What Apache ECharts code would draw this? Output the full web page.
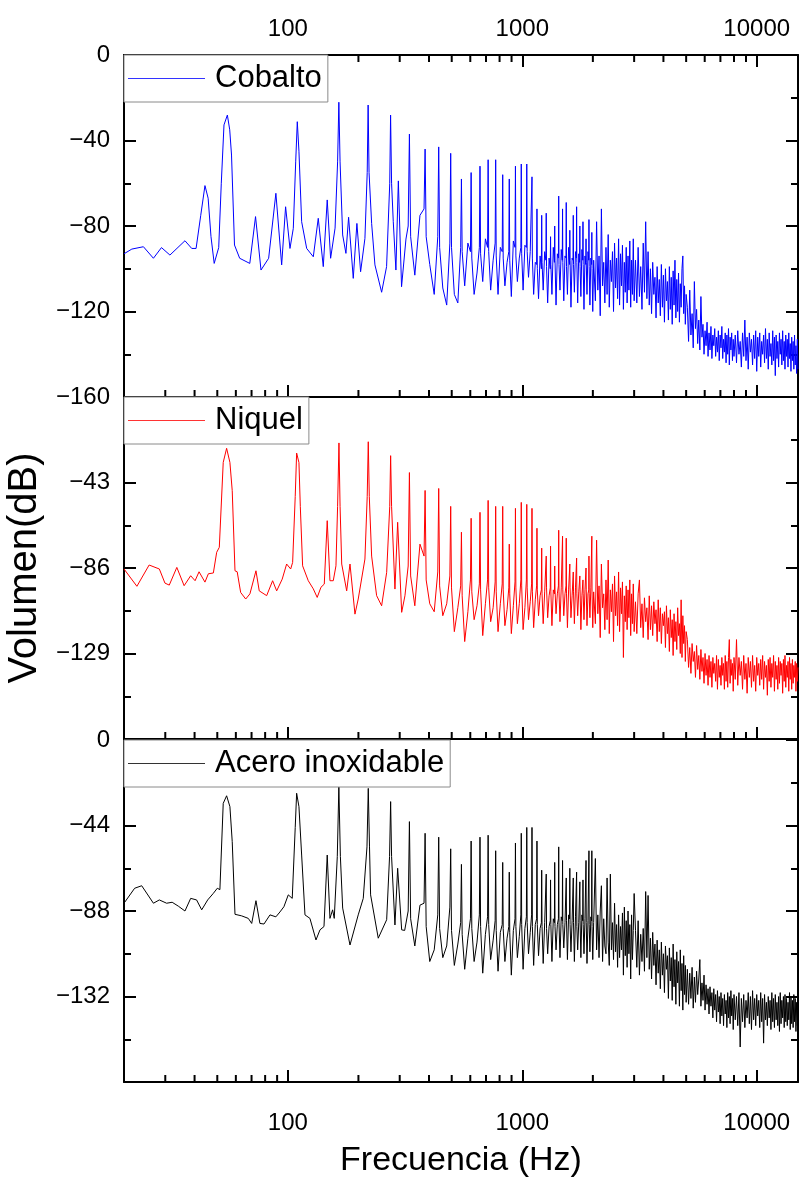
<!DOCTYPE html>
<html>
<head>
<meta charset="utf-8">
<script src="https://cdn.jsdelivr.net/npm/echarts@6/dist/echarts.min.js"></script>
<style>
  html, body { margin: 0; padding: 0; background: #fff; }
  #chart { width: 800px; height: 1178px; }
</style>
</head>
<body>
<div id="chart"></div>
<script>
// espectros de volumen (dB) vs frecuencia (Hz)

// zona baja (20-320 Hz), pares [Hz, dB] por material
const cobaltoLow = [
  [20, -93], [21.6, -90.8], [24.2, -89.7], [26.7, -95.1], [28.9, -90.1], [31.4, -93.6],
  [36.4, -86.9], [38.9, -90.5], [40.6, -90.5], [42.5, -75], [44.3, -61.1], [45.7, -67],
  [47, -85], [48.5, -97.5], [50.7, -90.1], [52, -60], [53.4, -32.7], [55.2, -28.1],
  [56.5, -35], [57.5, -46.8], [59.2, -88.9], [62.3, -95.1], [68.8, -97.5], [72.8, -75.6],
  [76.8, -100.6], [82.8, -95.1], [88.9, -64.7], [94.1, -98.2], [97.8, -71], [102.1, -90.5],
  [105.5, -81.1], [108, -50], [109.7, -31.2], [111.5, -45], [114.5, -78], [120.3, -90.5],
  [128.4, -94.4], [134.8, -76.4], [141.6, -99], [147.2, -67.8], [152.2, -95.1], [159, -81],
  [163, -50], [165, -22.1], [167, -50], [171.3, -84.2], [176.9, -92.8], [181.6, -75.9],
  [190.1, -104.5], [197, -78.8], [204.3, -101.4], [213.2, -85.8], [218, -55], [220, -23.4],
  [222, -55], [227.7, -78.8], [235.2, -98.2], [251.2, -111], [263.7, -99], [272, -60],
  [274.3, -28.1], [277, -60], [281.6, -78], [289, -100.6], [296, -58.9], [305.5, -108.4],
  [319, -86.1]
];
const niquelLow = [
  [20, -86.5], [22.7, -95.2], [25.6, -84.5], [28.3, -86.5], [29.9, -93.6], [31.2, -94.6],
  [33.6, -85.7], [36.1, -94.9], [38.5, -89.9], [40.2, -92.4], [41.8, -87.9], [44.3, -93.1],
  [45.8, -88.9], [48.1, -88.5], [49.7, -78.1], [51, -75.6], [53, -32.9], [54.8, -25.8],
  [56.6, -32.9], [57.9, -47.1], [59.5, -87.4], [60.8, -87.9], [62.9, -98.3], [66.1, -101.6],
  [68.9, -99], [73.1, -87.4], [75.5, -97.5], [81.2, -99.9], [86.1, -92.4], [89.6, -97.5],
  [94.6, -91.6], [98.8, -84], [102.8, -86.5], [104.8, -83.2], [107.5, -50], [109, -28.2],
  [111.5, -33], [113, -55], [115.6, -84.9], [122.2, -92.4], [128.4, -96.5], [133.4, -100.8],
  [138.4, -95.7], [143, -94.1], [147.2, -62.2], [151.2, -92.4], [156.2, -92.4], [160.4, -84.9],
  [163, -55], [165.2, -23.1], [167, -55], [169.7, -84], [178.2, -97.5], [184.1, -84],
  [193.3, -109.2], [199.6, -101.6], [213.2, -81.5], [218, -50], [220.3, -22.5], [222.5, -50],
  [227.7, -80], [239.1, -99.9], [251.2, -105], [263.9, -88.2], [272, -55], [274.4, -29.5],
  [277, -55], [286.3, -96.6], [294, -63], [305.8, -108.3], [315.8, -100]
];
const aceroLow = [
  [20, -84], [22.2, -76.3], [23.8, -75], [26.7, -84], [28.3, -82.3], [30.4, -84],
  [32.1, -83.5], [34.1, -85.5], [36.4, -88], [38.5, -81.5], [40.8, -82.3], [42.9, -87.4],
  [45.5, -82.3], [48.1, -78.9], [50, -76.3], [51.3, -77], [53, -32.6], [54.8, -28.7],
  [56.6, -34.3], [57.9, -52.3], [59.5, -89.7], [63.5, -90.5], [67.8, -91.8], [70.1, -94.4],
  [73.1, -82.7], [76, -94.4], [79.1, -94.7], [83.9, -90], [88.9, -91], [92.5, -88.5],
  [96.2, -85.8], [100.4, -79.7], [104.4, -81.5], [107.5, -45], [109, -27.4], [111.5, -34.3],
  [114.5, -59.2], [118.3, -90], [124.2, -91.8], [131.8, -102.9], [137.1, -97.7], [142.6, -96],
  [147.2, -59.2], [151.2, -91.8], [155.2, -87.4], [157.7, -91.8], [162.5, -60], [165, -24],
  [167.5, -60], [171.3, -86.5], [184.1, -105.5], [199.6, -90], [209.7, -81.5], [217.5, -55],
  [220.3, -24.9], [223, -55], [225.4, -79.7], [243, -102], [263.9, -92.5], [271.5, -60],
  [274.4, -31.7], [277, -60], [286.3, -95.2], [294, -66], [305.8, -97.7], [315, -98]
];

// zona de armonicos (326-2016 Hz): frecuencias comunes, 5 por armonico
const midFreqs = [
  326, 330, 334, 348, 366,
  381, 385, 389, 403, 421,
  436, 440, 444, 458, 476,
  491, 495, 499, 513, 531,
  546, 550, 554, 568, 586,
  601, 605, 609, 623, 641,
  656, 660, 664, 678, 696,
  711, 715, 719, 733, 751,
  766, 770, 774, 788, 806,
  821, 825, 829, 843, 861,
  876, 880, 884, 898, 916,
  931, 935, 939, 953, 971,
  986, 990, 994, 1008, 1026,
  1041, 1045, 1049, 1063, 1081,
  1096, 1100, 1104, 1118, 1136,
  1151, 1155, 1159, 1173, 1191,
  1206, 1210, 1214, 1228, 1246,
  1261, 1265, 1269, 1283, 1301,
  1316, 1320, 1324, 1338, 1356,
  1371, 1375, 1379, 1393, 1411,
  1426, 1430, 1434, 1448, 1466,
  1481, 1485, 1489, 1503, 1521,
  1536, 1540, 1544, 1558, 1576,
  1591, 1595, 1599, 1613, 1631,
  1646, 1650, 1654, 1668, 1686,
  1701, 1705, 1709, 1723, 1741,
  1756, 1760, 1764, 1778, 1796,
  1811, 1815, 1819, 1833, 1851,
  1866, 1870, 1874, 1888, 1906,
  1921, 1925, 1929, 1943, 1961,
  1976, 1980, 1984, 1998, 2016
];
const cobaltoMid = [
  -80, -37, -85, -103, -75,
  -72, -44, -85, -98, -112,
  -85, -43, -90, -109, -117,
  -88, -46, -90, -112, -116,
  -90, -58, -92, -108, -88,
  -92, -55, -95, -112, -102,
  -90, -52, -93, -106, -86,
  -90, -49, -92, -110, -96,
  -88, -49, -94, -112, -90,
  -92, -56, -95, -108, -97,
  -92, -58, -96, -113, -87,
  -90, -52, -94, -106, -95,
  -90, -51, -93, -110, -89,
  -90, -51, -92, -104, -92,
  -92, -57, -95, -112, -97,
  -98, -72, -100, -114, -94,
  -100, -75, -97, -110, -92,
  -96, -74, -99, -116, -95,
  -100, -85, -98, -112, -90,
  -97, -80, -96, -117, -93,
  -95, -66, -98, -110, -91,
  -96, -72, -97, -115, -94,
  -95, -69, -99, -112, -90,
  -98, -82, -96, -118, -95,
  -96, -75, -98, -111, -92,
  -95, -71, -97, -116, -93,
  -97, -80, -99, -113, -91,
  -96, -78, -98, -119, -94,
  -98, -86, -97, -112, -92,
  -96, -77, -99, -117, -95,
  -98, -83, -100, -120, -96
];
const niquelMid = [
  -85, -38, -90, -105, -74,
  -80, -47, -92, -104, -108,
  -88, -46, -95, -110, -104,
  -90, -55, -96, -118, -106,
  -95, -68, -100, -123, -108,
  -92, -61, -98, -112, -105,
  -94, -58, -97, -120, -104,
  -92, -52, -96, -113, -106,
  -93, -55, -98, -118, -104,
  -94, -55, -97, -115, -107,
  -96, -74, -99, -119, -105,
  -93, -56, -96, -114, -104,
  -92, -53, -95, -117, -106,
  -92, -54, -96, -112, -103,
  -94, -56, -98, -116, -102,
  -95, -66, -97, -110, -100,
  -97, -76, -99, -114, -98,
  -98, -80, -96, -111, -100,
  -96, -75, -98, -115, -97,
  -99, -85, -97, -109, -99,
  -95, -67, -98, -113, -96,
  -96, -70, -97, -110, -99,
  -95, -71, -99, -116, -97,
  -98, -84, -96, -111, -100,
  -99, -88, -98, -114, -96,
  -97, -81, -99, -110, -98,
  -99, -90, -97, -117, -100,
  -100, -92, -99, -112, -97,
  -98, -86, -97, -115, -99,
  -97, -80, -99, -111, -96,
  -95, -70, -98, -116, -98
];
const aceroMid = [
  -88, -42, -92, -106, -85,
  -84, -48, -96, -114, -108,
  -90, -50, -97, -112, -106,
  -86, -56, -98, -116, -105,
  -94, -64, -100, -118, -102,
  -92, -52, -97, -114, -104,
  -90, -50, -96, -120, -100,
  -91, -49, -95, -113, -103,
  -93, -57, -98, -119, -99,
  -95, -63, -97, -114, -102,
  -96, -68, -99, -121, -98,
  -92, -53, -96, -112, -101,
  -90, -48, -95, -118, -97,
  -91, -45, -94, -110, -99,
  -90, -45, -96, -116, -95,
  -92, -52, -95, -111, -97,
  -94, -67, -96, -115, -94,
  -95, -69, -97, -110, -96,
  -93, -72, -95, -114, -92,
  -94, -63, -96, -108, -95,
  -92, -55, -94, -112, -91,
  -93, -62, -95, -107, -94,
  -94, -71, -93, -113, -90,
  -92, -66, -95, -109, -93,
  -93, -71, -94, -114, -91,
  -92, -68, -96, -108, -94,
  -94, -73, -93, -112, -90,
  -93, -72, -95, -110, -92,
  -91, -62, -94, -115, -93,
  -92, -57, -95, -109, -91,
  -93, -57, -96, -113, -94
];

// zona de ruido (2025-15000 Hz): frecuencias comunes
const bandFreqs = [
  2025, 2050, 2075, 2100, 2125, 2150, 2175, 2200, 2225, 2250,
  2275, 2300, 2325, 2350, 2375, 2400, 2425, 2450, 2475, 2500,
  2525, 2550, 2575, 2600, 2625, 2650, 2675, 2700, 2725, 2750,
  2775, 2800, 2825, 2850, 2875, 2900, 2925, 2950, 2975, 3000,
  3040, 3080, 3120, 3160, 3200, 3240, 3280, 3320, 3360, 3400,
  3440, 3480, 3520, 3560, 3600, 3640, 3680, 3720, 3760, 3800,
  3840, 3880, 3920, 3960, 4000, 4040, 4080, 4120, 4160, 4200,
  4240, 4280, 4320, 4360, 4400, 4440, 4480, 4520, 4560, 4600,
  4640, 4680, 4720, 4760, 4800, 4840, 4880, 4920, 4960, 5000,
  5060, 5120, 5180, 5240, 5300, 5360, 5420, 5480, 5540, 5600,
  5660, 5720, 5780, 5840, 5900, 5960, 6020, 6080, 6140, 6200,
  6260, 6320, 6380, 6440, 6500, 6560, 6620, 6680, 6740, 6800,
  6860, 6920, 6980, 7040, 7100, 7160, 7220, 7280, 7340, 7400,
  7460, 7520, 7580, 7640, 7700, 7760, 7820, 7880, 7940, 8000,
  8100, 8200, 8300, 8400, 8500, 8600, 8700, 8800, 8900, 9000,
  9100, 9200, 9300, 9400, 9500, 9600, 9700, 9800, 9900, 10000,
  10100, 10200, 10300, 10400, 10500, 10600, 10700, 10800, 10900, 11000,
  11100, 11200, 11300, 11400, 11500, 11600, 11700, 11800, 11900, 12000,
  12100, 12200, 12300, 12400, 12500, 12600, 12700, 12800, 12900, 13000,
  13100, 13200, 13300, 13400, 13500, 13600, 13700, 13800, 13900, 14000,
  14100, 14200, 14300, 14400, 14500, 14600, 14700, 14800, 14900, 15000
];
const cobaltoBand = [
  -96, -115, -78, -110, -94, -122, -72, -108, -97, -116,
  -90, -112, -84, -118, -96, -106, -92, -120, -88, -109,
  -95, -114, -86, -117, -93, -108, -89, -119, -97, -111,
  -90, -116, -94, -110, -87, -118, -96, -112, -86, -115,
  -96, -116, -90, -113, -99, -119, -88, -111, -78, -114,
  -92, -117, -100, -121, -97, -112, -104, -123, -99, -116,
  -105, -122, -98, -118, -103, -125, -100, -115, -106, -124,
  -99, -119, -104, -126, -101, -117, -96, -123, -105, -120,
  -102, -125, -107, -118, -100, -94, -121, -108, -126, -112,
  -118, -134, -110, -131, -121, -137, -106, -128, -119, -135,
  -124, -138, -113, -132, -126, -140, -129, -136, -125, -141,
  -130, -138, -127, -142, -131, -136, -128, -141, -132, -139,
  -129, -143, -131, -137, -127, -142, -133, -139, -130, -144,
  -131, -140, -128, -145, -132, -138, -130, -143, -133, -141,
  -131, -144, -129, -140, -134, -146, -130, -141, -124, -143,
  -132, -147, -130, -139, -133, -145, -131, -142, -129, -148,
  -132, -141, -130, -146, -134, -140, -131, -144, -128, -142,
  -133, -147, -130, -141, -135, -145, -129, -143, -132, -150,
  -131, -142, -134, -146, -130, -140, -133, -145, -129, -143,
  -134, -147, -131, -141, -133, -146, -130, -142, -135, -148,
  -132, -143, -134, -147, -131, -145, -136, -149, -133, -147
];
const niquelBand = [
  -98, -114, -72, -109, -95, -121, -84, -106, -99, -117,
  -92, -112, -82, -119, -97, -108, -94, -123, -90, -110,
  -98, -115, -88, -118, -96, -109, -93, -131, -100, -113,
  -95, -117, -97, -111, -92, -120, -99, -114, -94, -118,
  -103, -119, -99, -92, -116, -104, -121, -101, -113, -106,
  -122, -100, -117, -105, -120, -103, -114, -107, -123, -102,
  -118, -106, -124, -109, -115, -108, -126, -105, -119, -111,
  -128, -107, -121, -112, -130, -109, -123, -113, -127, -106,
  -120, -114, -129, -102, -131, -110, -124, -115, -133, -118,
  -122, -136, -126, -139, -124, -133, -128, -141, -125, -137,
  -130, -142, -127, -138, -131, -144, -129, -140, -132, -145,
  -130, -141, -133, -146, -131, -139, -134, -143, -130, -147,
  -132, -141, -135, -145, -131, -140, -134, -147, -130, -143,
  -133, -146, -131, -122, -144, -132, -140, -134, -148, -131,
  -142, -122, -145, -131, -140, -133, -147, -130, -142, -134,
  -149, -131, -141, -133, -146, -130, -143, -135, -148, -131,
  -140, -134, -145, -132, -142, -130, -147, -133, -141, -135,
  -150, -132, -143, -131, -146, -134, -141, -130, -148, -133,
  -142, -135, -147, -131, -144, -133, -140, -134, -149, -132,
  -143, -130, -146, -135, -141, -133, -148, -131, -142, -134,
  -147, -132, -144, -135, -141, -133, -148, -134, -143, -136
];
const aceroBand = [
  -95, -61, -108, -90, -112, -88, -75, -114, -92, -106,
  -110, -71, -104, -116, -69, -108, -94, -113, -84, -109,
  -95, -117, -90, -112, -96, -108, -89, -121, -86, -111,
  -93, -117, -88, -110, -95, -123, -90, -113, -98, -79,
  -98, -117, -93, -121, -100, -114, -97, -119, -78, -112,
  -80, -118, -102, -123, -99, -116, -105, -126, -103, -120,
  -108, -128, -104, -121, -110, -130, -106, -118, -111, -133,
  -107, -124, -112, -134, -105, -127, -113, -136, -109, -125,
  -114, -137, -108, -129, -115, -139, -111, -131, -116, -135,
  -118, -136, -120, -133, -117, -138, -122, -135, -119, -131,
  -123, -113, -137, -125, -134, -121, -139, -126, -136, -128,
  -141, -127, -137, -130, -143, -128, -139, -131, -145, -129,
  -140, -132, -146, -130, -142, -133, -147, -131, -141, -134,
  -148, -130, -143, -132, -146, -129, -142, -133, -149, -131,
  -144, -132, -147, -130, -158, -133, -145, -131, -148, -134,
  -143, -130, -146, -132, -149, -129, -144, -133, -147, -131,
  -142, -134, -148, -130, -145, -133, -156, -131, -144, -135,
  -147, -132, -143, -134, -149, -130, -145, -133, -148, -131,
  -144, -135, -147, -132, -150, -130, -146, -134, -143, -132,
  -148, -131, -145, -133, -147, -135, -144, -130, -149, -132,
  -146, -134, -148, -131, -145, -133, -150, -135, -147, -140
];

// marcas menores del eje logaritmico
const minorTickFreqs = [30, 40, 50, 60, 70, 80, 90, 200, 300, 400, 500, 600, 700, 800, 900,
  2000, 3000, 4000, 5000, 6000, 7000, 8000, 9000];
const majorFreqLabels = [100, 1000, 10000];

const FONT = '"Liberation Sans", Arial, sans-serif';

function pairs(freqs, vals) {
  return freqs.map(function (f, i) { return [f, vals[i]]; });
}
const cobaltoData = cobaltoLow.concat(pairs(midFreqs, cobaltoMid), pairs(bandFreqs, cobaltoBand));
const niquelData = niquelLow.concat(pairs(midFreqs, niquelMid), pairs(bandFreqs, niquelBand));
const aceroData = aceroLow.concat(pairs(midFreqs, aceroMid), pairs(bandFreqs, aceroBand));

const gridTops = [55, 397, 740];
const gridH = 342;

function freqLabel(v) {
  return majorFreqLabels.indexOf(Math.round(v)) >= 0 ? String(Math.round(v)) : '';
}

function xAxis(grid, position, showLabels) {
  return {
    type: 'log', logBase: 10, gridIndex: grid, position: position,
    min: 20, max: 15000,
    axisLine: { show: true, onZero: false, lineStyle: { color: '#000', width: 2 } },
    axisTick: { show: true, inside: true, length: 12, lineStyle: { color: '#000', width: 2 } },
    minorTick: { show: false },
    splitLine: { show: false },
    axisLabel: {
      show: showLabels, formatter: freqLabel, color: '#000',
      fontSize: 24, fontFamily: FONT, margin: position === 'top' ? 14 : 29,
      showMinLabel: false, showMaxLabel: false
    }
  };
}

function yAxis(grid, position, min, step, hideEnds) {
  return {
    type: 'value', gridIndex: grid, position: position,
    min: min, max: 0, interval: step,
    axisLine: { show: true, onZero: false, lineStyle: { color: '#000', width: 2 } },
    axisTick: { show: true, inside: true, length: 12, lineStyle: { color: '#000', width: 2 } },
    minorTick: { show: true, splitNumber: 2, length: 7, lineStyle: { color: '#000', width: 2 } },
    splitLine: { show: false },
    axisLabel: {
      show: position === 'left', color: '#000', fontSize: 24, fontFamily: FONT, margin: 14,
      formatter: function (v) {
        if (hideEnds.indexOf(v) >= 0) return '';
        return v === 0 ? '0' : '\u2212' + Math.abs(v);
      }
    }
  };
}

function minorTicks(xIdx, yIdx, withTop) {
  return {
    type: 'custom', xAxisIndex: xIdx, yAxisIndex: yIdx, silent: true, clip: false,
    data: minorTickFreqs.map(function (f) { return [f, 0]; }),
    encode: { x: 0, y: 1 },
    renderItem: function (params, api) {
      const cs = params.coordSys;
      const x = api.coord([api.value(0), 0])[0];
      const style = { stroke: '#000', lineWidth: 2 };
      const kids = [{ type: 'line', shape: { x1: x, y1: cs.y + cs.height, x2: x, y2: cs.y + cs.height - 7 }, style: style }];
      if (withTop) {
        kids.push({ type: 'line', shape: { x1: x, y1: cs.y, x2: x, y2: cs.y + 7 }, style: style });
      }
      return { type: 'group', children: kids };
    }
  };
}

function legend(name, top, color) {
  return {
    data: [name], left: 124, top: top, orient: 'horizontal',
    icon: 'rect', itemWidth: 77, itemHeight: 1, padding: [8, 6, 8, 4],
    itemStyle: { color: color, opacity: 0.8 },
    backgroundColor: '#fff', borderColor: '#8a8a8a', borderWidth: 1, borderRadius: 0,
    selectedMode: false,
    textStyle: { color: '#000', fontSize: 31, fontFamily: FONT, padding: [0, 0, 0, 5] }
  };
}

function lineSeries(name, data, color, xIdx, yIdx) {
  return {
    name: name, type: 'line', data: data, xAxisIndex: xIdx, yAxisIndex: yIdx,
    showSymbol: false, symbol: 'none', progressive: 0,
    lineStyle: { color: color, width: 1 }, itemStyle: { color: color }
  };
}

const chart = echarts.init(document.getElementById('chart'), null, { renderer: 'canvas' });

const xAxes = [xAxis(0, 'bottom', false), xAxis(0, 'top', true), xAxis(1, 'bottom', false), xAxis(2, 'bottom', true)];
xAxes[3].name = 'Frecuencia (Hz)';
xAxes[3].nameLocation = 'middle';
xAxes[3].nameGap = 62;
xAxes[3].nameTextStyle = { color: '#000', fontSize: 34, fontFamily: FONT };

const yAxes = [
  yAxis(0, 'left', -160, 40, []), yAxis(0, 'right', -160, 40, []),
  yAxis(1, 'left', -172, 43, [0, -172]), yAxis(1, 'right', -172, 43, []),
  yAxis(2, 'left', -176, 44, [-176]), yAxis(2, 'right', -176, 44, [])
];
yAxes[2].name = 'Volumen(dB)';
yAxes[2].nameLocation = 'middle';
yAxes[2].nameGap = 74;
yAxes[2].nameTextStyle = { color: '#000', fontSize: 40, fontFamily: FONT };

chart.setOption({
  animation: false,
  backgroundColor: '#fff',
  grid: gridTops.map(function (t) {
    return { left: 124, width: 674, top: t, height: gridH, containLabel: false, outerBoundsMode: 'none' };
  }),
  legend: [
    legend('Cobalto', 55, '#0000ff'),
    legend('Niquel', 397, '#ff0000'),
    legend('Acero inoxidable', 740, '#000000')
  ],
  xAxis: xAxes,
  yAxis: yAxes,
  series: [
    lineSeries('Cobalto', cobaltoData, '#0000ff', 0, 0),
    lineSeries('Niquel', niquelData, '#ff0000', 2, 2),
    lineSeries('Acero inoxidable', aceroData, '#000000', 3, 4),
    minorTicks(0, 0, true),
    minorTicks(2, 2, false),
    minorTicks(3, 4, false)
  ]
});
</script>
</body>
</html>
